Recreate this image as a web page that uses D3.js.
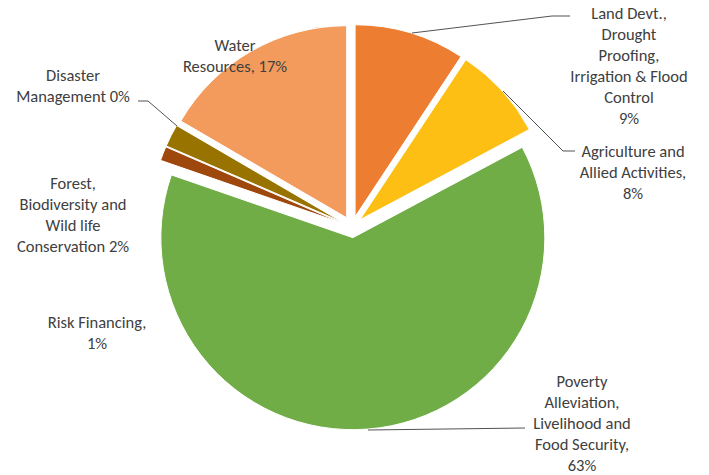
<!DOCTYPE html>
<html><head><meta charset="utf-8">
<script src="https://cdn.jsdelivr.net/npm/d3@7"></script>
<style>body{margin:0;background:#fff}svg text{font-family:Carlito,Calibri,Lato,sans-serif;}</style>
</head><body>
<svg id="c" width="709" height="475"></svg>
<script>
const categories = ["Land Devt., Drought Proofing, Irrigation & Flood Control","Agriculture and Allied Activities","Poverty Alleviation, Livelihood and Food Security","Risk Financing","Forest, Biodiversity and Wild life Conservation","Disaster Management","Water Resources"];
const values = [9.3, 7.9, 63.1, 1.2, 1.9, 0, 16.6];
const colors = ["#ED7D31","#FDBF14","#70AD47","#9E480E","#997300","#7F6000","#F39B5C"];
const labelLines = [
  ["Land Devt.,","Drought","Proofing,","Irrigation & Flood","Control","9%"],
  ["Agriculture and","Allied Activities,","8%"],
  ["Poverty","Alleviation,","Livelihood and","Food Security,","63%"],
  ["Risk Financing,","1%"],
  ["Forest,","Biodiversity and","Wild life","Conservation 2%"],
  ["Disaster","Management 0%"],
  ["Water","Resources, 17%"]
];
const labelPos = [[629,13],[633,151],[582,381],[97,322],[73,183],[73,75],[235,45]];
const leaders = [
  [[412,33],[552,16],[570,16]],
  [[503,91],[563,151],[575,151]],
  [[368,430],[525,428]],
  null,
  null,
  [[138,101],[148,101],[177,126]],
  null
];

const svg = d3.select("#c");
const cx = 352, cy = 227, R = 192, explode = 10.7;
const pie = d3.pie().sort(null).value(d => d).startAngle(0).endAngle(2*Math.PI);
const arc = d3.arc().innerRadius(0).outerRadius(R);
const arcs = pie(values);
const g = svg.append("g").attr("transform", `translate(${cx},${cy})`);
g.selectAll("path").data(arcs).enter().filter(d => d.value > 0).append("path")
  .attr("d", arc)
  .attr("fill", d => colors[d.index])
  .attr("stroke", "#fff").attr("stroke-width", 1)
  .attr("transform", d => {
    const m = (d.startAngle + d.endAngle)/2;
    return `translate(${explode*Math.sin(m)},${-explode*Math.cos(m)})`;
  });

const line = d3.line();
leaders.forEach(l => { if (l) svg.append("path").attr("d", line(l)).attr("fill","none").attr("stroke","#404040").attr("stroke-width",0.9); });

labelLines.forEach((lines, i) => {
  const t = svg.append("text").attr("text-anchor","middle").attr("fill","#404040").attr("font-size","16.5px");
  lines.forEach((s, j) => t.append("tspan").attr("x", labelPos[i][0]).attr("y", labelPos[i][1] + j*21).attr("dy","0.35em").text(s));
});
</script>
</body></html>
